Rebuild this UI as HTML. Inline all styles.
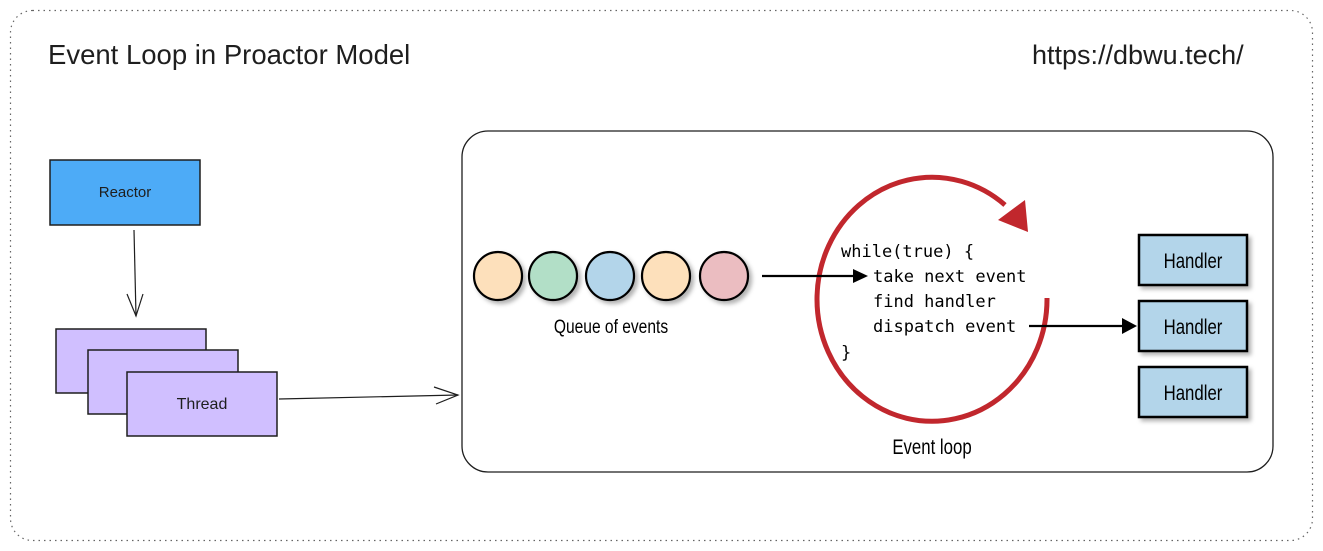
<!DOCTYPE html>
<html><head><meta charset="utf-8"><style>
body{margin:0;background:#fff;width:1323px;height:551px;overflow:hidden}
svg{display:block}
</style></head><body>
<svg width="1323" height="551" viewBox="0 0 1323 551" xmlns="http://www.w3.org/2000/svg">
<defs>
<filter id="sh" x="-20%" y="-20%" width="150%" height="150%"><feDropShadow dx="3" dy="3" stdDeviation="2" flood-color="#000" flood-opacity="0.3"/></filter>
</defs>
<rect x="10.5" y="10.5" width="1302" height="530" rx="22" fill="#fff" stroke="#666" stroke-width="1.2" stroke-dasharray="1.5 4"/>
<text x="48" y="64" font-family="Liberation Sans, sans-serif" font-size="27.5" fill="#1e1e1e">Event Loop in Proactor Model</text>
<text x="1032" y="64" font-family="Liberation Sans, sans-serif" font-size="27" fill="#1e1e1e">https://dbwu.tech/</text>

<rect x="50" y="160" width="150" height="65" fill="#4dabf7" stroke="#1e1e1e" stroke-width="1.5"/>
<text x="125" y="197" text-anchor="middle" font-family="Liberation Sans, sans-serif" font-size="15" fill="#1e1e1e">Reactor</text>
<line x1="134" y1="230" x2="136" y2="316" stroke="#1e1e1e" stroke-width="1.2"/>
<path d="M127 294 L136 316 L143 294" fill="none" stroke="#1e1e1e" stroke-width="1.2"/>

<rect x="56" y="329" width="150" height="64" fill="#d0bfff" stroke="#1e1e1e" stroke-width="1.5"/>
<rect x="88" y="350" width="150" height="64" fill="#d0bfff" stroke="#1e1e1e" stroke-width="1.5"/>
<rect x="127" y="372" width="150" height="64" fill="#d0bfff" stroke="#1e1e1e" stroke-width="1.5"/>
<text x="202" y="409" text-anchor="middle" font-family="Liberation Sans, sans-serif" font-size="16" fill="#1e1e1e">Thread</text>
<path d="M279 399 L458 395" stroke="#1e1e1e" stroke-width="1.2" fill="none"/>
<path d="M434 387 L458 395 L436 404" fill="none" stroke="#1e1e1e" stroke-width="1.2"/>

<rect x="462" y="131" width="811" height="341" rx="26" fill="#fff" stroke="#1e1e1e" stroke-width="1.3"/>

<g stroke="#000" stroke-width="2.2" filter="url(#sh)">
<circle cx="498" cy="276" r="24" fill="#fde0bb"/>
<circle cx="553" cy="276" r="24" fill="#b2dfc7"/>
<circle cx="610" cy="276" r="24" fill="#b3d5ea"/>
<circle cx="666" cy="276" r="24" fill="#fde0bb"/>
<circle cx="724" cy="276" r="24" fill="#ebbdc1"/>
</g>
<text x="611" y="333" text-anchor="middle" font-family="Liberation Sans, sans-serif" font-size="19" transform="translate(611 0) scale(0.82 1) translate(-611 0)" fill="#000">Queue of events</text>

<path d="M1047 298 A115 122 0 1 1 1005 205" fill="none" stroke="#c1272d" stroke-width="5"/>
<path d="M998 220 L1025 200 L1028 232 Z" fill="#c1272d"/>

<line x1="762" y1="276" x2="856" y2="276" stroke="#000" stroke-width="2.2"/>
<path d="M853 269 L868 276 L853 283 Z" fill="#000"/>
<line x1="1029" y1="326" x2="1125" y2="326" stroke="#000" stroke-width="2.2"/>
<path d="M1122 318 L1137 326 L1122 334 Z" fill="#000"/>

<g font-family="DejaVu Sans Mono, Liberation Mono, monospace" font-size="17" fill="#000">
<text x="841" y="257">while(true) {</text>
<text x="873" y="282">take next event</text>
<text x="873" y="307">find handler</text>
<text x="873" y="332">dispatch event</text>
<text x="841" y="358">}</text>
</g>
<text x="932" y="454" text-anchor="middle" font-family="Liberation Sans, sans-serif" font-size="21" transform="translate(932 0) scale(0.8 1) translate(-932 0)" fill="#000">Event loop</text>

<g stroke="#000" stroke-width="2.5" fill="#b3d5ea" filter="url(#sh)">
<rect x="1139" y="235" width="108" height="50"/>
<rect x="1139" y="301" width="108" height="50"/>
<rect x="1139" y="367" width="108" height="50"/>
</g>
<g font-family="Liberation Sans, sans-serif" font-size="21" fill="#000" text-anchor="middle">
<text x="1193" y="268" transform="translate(1193 0) scale(0.8 1) translate(-1193 0)">Handler</text>
<text x="1193" y="334" transform="translate(1193 0) scale(0.8 1) translate(-1193 0)">Handler</text>
<text x="1193" y="400" transform="translate(1193 0) scale(0.8 1) translate(-1193 0)">Handler</text>
</g>
</svg>
</body></html>
